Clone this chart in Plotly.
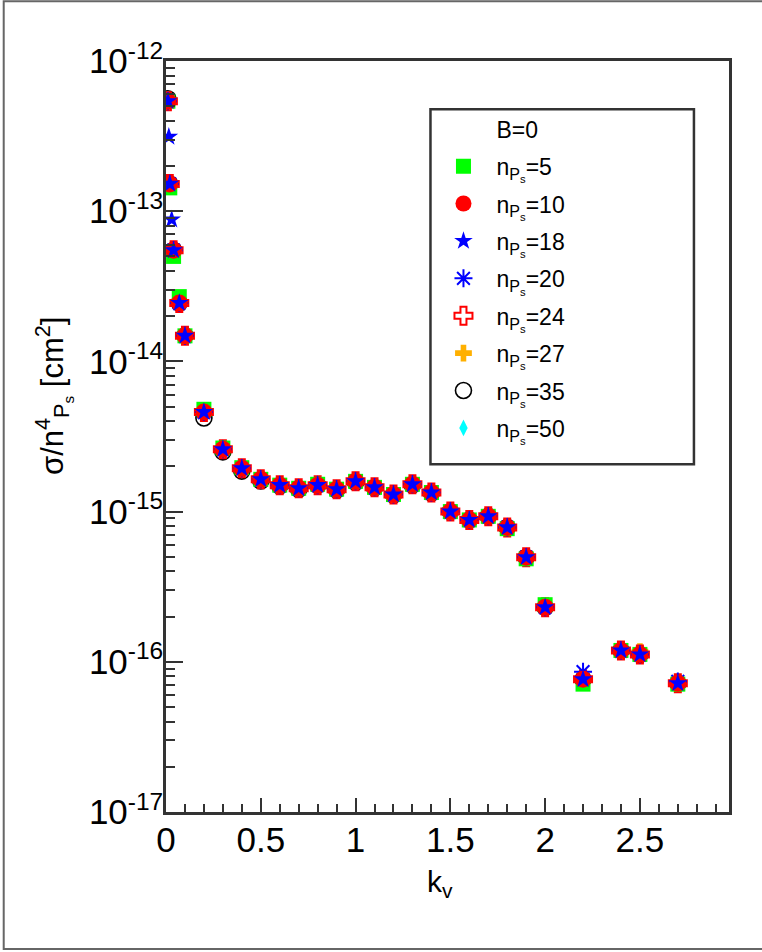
import plotly.graph_objects as go

# ---------------- data ----------------
kv = [0.01, 0.02, 0.04, 0.07, 0.1, 0.2, 0.3, 0.4, 0.5, 0.6, 0.7, 0.8, 0.9, 1.0,
      1.1, 1.2, 1.3, 1.4, 1.5, 1.6, 1.7, 1.8, 1.9, 2.0, 2.2, 2.4, 2.5, 2.7]

sig_n5 = [5.4e-13, 1.43e-13, 5.0e-14, 2.7e-14, 1.48e-14, 4.8e-15, 2.65e-15, 1.96e-15,
          1.64e-15, 1.5e-15, 1.43e-15, 1.52e-15, 1.41e-15, 1.59e-15, 1.45e-15, 1.3e-15,
          1.52e-15, 1.34e-15, 1.0e-15, 8.8e-16, 9.3e-16, 7.7e-16, 4.85e-16, 2.4e-16,
          7.1e-17, 1.19e-16, 1.12e-16, 7.1e-17]
sig_n10 = [5.4e-13, 1.52e-13, 5.5e-14, 2.45e-14, 1.48e-14, 4.6e-15, 2.6e-15, 1.94e-15,
           1.64e-15, 1.5e-15, 1.43e-15, 1.5e-15, 1.41e-15, 1.59e-15, 1.45e-15, 1.3e-15,
           1.52e-15, 1.34e-15, 1.0e-15, 8.8e-16, 9.3e-16, 7.85e-16, 4.97e-16, 2.31e-16,
           7.65e-17, 1.19e-16, 1.12e-16, 7.2e-17]
kv_n18 = [0.01, 0.015, 0.02, 0.03, 0.04, 0.07, 0.1, 0.2, 0.3, 0.4, 0.5, 0.6, 0.7, 0.8,
          0.9, 1.0, 1.1, 1.2, 1.3, 1.4, 1.5, 1.6, 1.7, 1.8, 1.9, 2.0, 2.2, 2.4, 2.5, 2.7]
sig_n18 = [5.4e-13, 3.13e-13, 1.52e-13, 8.8e-14, 5.5e-14, 2.45e-14, 1.48e-14, 4.6e-15,
           2.6e-15, 1.94e-15, 1.64e-15, 1.5e-15, 1.43e-15, 1.5e-15, 1.41e-15, 1.59e-15,
           1.45e-15, 1.3e-15, 1.52e-15, 1.34e-15, 1.0e-15, 8.8e-16, 9.3e-16, 7.85e-16,
           4.97e-16, 2.31e-16, 7.65e-17, 1.19e-16, 1.12e-16, 7.2e-17]
sig_n20 = [5.4e-13, 1.52e-13, 5.5e-14, 2.45e-14, 1.48e-14, 4.6e-15, 2.6e-15, 1.94e-15,
           1.64e-15, 1.5e-15, 1.43e-15, 1.5e-15, 1.41e-15, 1.59e-15, 1.45e-15, 1.3e-15,
           1.52e-15, 1.34e-15, 1.0e-15, 8.8e-16, 9.3e-16, 7.85e-16, 4.97e-16, 2.31e-16,
           8.6e-17, 1.19e-16, 1.12e-16, 7.4e-17]
sig_n24 = [5.4e-13, 1.52e-13, 5.5e-14, 2.45e-14, 1.48e-14, 4.6e-15, 2.6e-15, 1.94e-15,
           1.64e-15, 1.5e-15, 1.43e-15, 1.5e-15, 1.41e-15, 1.59e-15, 1.45e-15, 1.3e-15,
           1.52e-15, 1.34e-15, 1.0e-15, 8.8e-16, 9.3e-16, 7.85e-16, 4.97e-16, 2.31e-16,
           7.65e-17, 1.19e-16, 1.12e-16, 7.2e-17]
sig_n27 = [5.4e-13, 1.52e-13, 5.5e-14, 2.45e-14, 1.48e-14, 4.6e-15, 2.6e-15, 1.94e-15,
           1.64e-15, 1.5e-15, 1.43e-15, 1.5e-15, 1.41e-15, 1.59e-15, 1.45e-15, 1.3e-15,
           1.52e-15, 1.34e-15, 1.0e-15, 8.8e-16, 9.3e-16, 7.85e-16, 4.97e-16, 2.31e-16,
           7.65e-17, 1.19e-16, 1.17e-16, 7.2e-17]
sig_n35 = [5.6e-13, 1.52e-13, 5.5e-14, 2.45e-14, 1.48e-14, 4.2e-15, 2.5e-15, 1.86e-15,
           1.6e-15, 1.48e-15, 1.41e-15, 1.5e-15, 1.39e-15, 1.57e-15, 1.44e-15, 1.29e-15,
           1.5e-15, 1.33e-15, 1.0e-15, 8.8e-16, 9.3e-16, 7.85e-16, 4.97e-16, 2.31e-16,
           7.65e-17, 1.19e-16, 1.12e-16, 7.2e-17]
sig_n50 = [5.4e-13, 1.52e-13, 5.5e-14, 2.45e-14, 1.48e-14, 4.6e-15, 2.6e-15, 1.94e-15,
           1.64e-15, 1.5e-15, 1.43e-15, 1.5e-15, 1.41e-15, 1.59e-15, 1.45e-15, 1.3e-15,
           1.52e-15, 1.34e-15, 1.0e-15, 8.8e-16, 9.3e-16, 7.85e-16, 4.97e-16, 2.31e-16,
           7.65e-17, 1.19e-16, 1.12e-16, 7.2e-17]

x_tickvals = [0, 0.5, 1, 1.5, 2, 2.5]
x_ticktext = ["0", "0.5", "1", "1.5", "2", "2.5"]
y_exps = [-17, -16, -15, -14, -13, -12]

FONT = "Liberation Sans"

fig = go.Figure()

# legend header entry
fig.add_trace(go.Scatter(x=[None], y=[None], mode="markers", name="B=0",
                         marker=dict(size=1, color="rgba(0,0,0,0)"), legendrank=1,
                         legendgroup="g0"))

# series: (label, k, sigma, symbol, color, size, line width, legend rank)
series = [
    ("50", kv, sig_n50, "diamond-tall", "#00ffff", 12, 0, 9),
    ("35", kv, sig_n35, "circle-open", "#000000", 16, 1.6, 8),
    ("27", kv, sig_n27, "cross", "#ffb000", 14, 0, 7),
    ("24", kv, sig_n24, "cross-open", "#ff0000", 15, 2, 6),
    ("20", kv, sig_n20, "asterisk-open", "#0000ff", 15, 2, 5),
    ("5", kv, sig_n5, "square", "#00ff00", 15, 0, 2),
    ("10", kv, sig_n10, "circle", "#ff0000", 17, 0, 3),
    ("18", kv_n18, sig_n18, "star", "#0000ff", 14, 0, 4),
]
for lab, xs, ys, sym, col, sz, lw, rk in series:
    if sym.endswith("-open"):
        mk = dict(symbol=sym, size=sz, color=col, line=dict(color=col, width=lw))
    else:
        mk = dict(symbol=sym, size=sz, color=col, line=dict(width=0))
    fig.add_trace(go.Scatter(
        x=xs, y=ys, mode="markers", marker=mk, legendrank=rk,
        legendgroup="g" + lab,
        name="n<sub>P<sub>s</sub></sub>=" + lab,
    ))

LINE = "#333333"
fig.update_xaxes(
    range=[0, 2.97], showgrid=False, zeroline=False,
    showline=True, mirror=True, linewidth=2.5, linecolor=LINE,
    tickmode="array", tickvals=x_tickvals, ticktext=x_ticktext,
    ticks="inside", ticklen=14, tickwidth=1.5, tickcolor=LINE,
    tickfont=dict(family=FONT, size=35, color="black"),
    ticklabelstandoff=-5,
    minor=dict(tickmode="array",
               tickvals=[i / 10 for i in range(0, 30) if i % 5],
               ticks="inside", ticklen=8, tickwidth=1.5, tickcolor=LINE,
               showgrid=False),
)
fig.update_yaxes(
    type="log", range=[-17, -12], showgrid=False, zeroline=False,
    showline=True, mirror=True, linewidth=2.5, linecolor=LINE,
    tickmode="array", tickvals=[10.0 ** e for e in y_exps],
    ticktext=["10<sup>%d</sup>" % e for e in y_exps],
    ticks="inside", ticklen=17, tickwidth=1.5, tickcolor=LINE,
    tickfont=dict(family=FONT, size=35, color="black"),
    ticklabelstandoff=-7,
    minor=dict(tickmode="array",
               tickvals=[m * 10.0 ** e for e in range(-17, -12) for m in range(2, 10)],
               ticks="inside", ticklen=9, tickwidth=1.5, tickcolor=LINE,
               showgrid=False),
)

# frame of the whole picture and legend box
fig.add_shape(type="rect", xref="paper", yref="paper",
              x0=(4 - 166) / 562, x1=1.3, y0=-(949 - 812) / 751.3, y1=1 + (60.7 - 1) / 751.3,
              line=dict(color="#666666", width=2), fillcolor="rgba(0,0,0,0)", layer="below")
fig.add_shape(type="rect", xref="paper", yref="paper",
              x0=(430 - 166) / 562, x1=(693 - 166) / 562,
              y0=1 - (464 - 60.7) / 751.3, y1=1 - (109 - 60.7) / 751.3,
              line=dict(color=LINE, width=2.5), fillcolor="white", layer="below")

# axis titles
fig.add_annotation(text="σ/n<sup>4</sup><sub>P<sub>s</sub></sub> [cm<sup>2</sup>]",
                   xref="paper", yref="paper", x=(53 - 166) / 562, y=1 - (396 - 60.7) / 751.3,
                   textangle=-90, showarrow=False, xanchor="center", yanchor="middle",
                   font=dict(family=FONT, size=31, color="black"))
fig.add_annotation(text="k<sub>v</sub>", xref="paper", yref="paper",
                   x=(440 - 166) / 562, y=-(884 - 812) / 751.3,
                   showarrow=False, xanchor="center", yanchor="middle",
                   font=dict(family=FONT, size=30, color="black"))

fig.update_layout(
    width=762, height=952,
    margin=dict(l=166, r=33, t=61, b=140),
    paper_bgcolor="white", plot_bgcolor="white",
    showlegend=True,
    legend=dict(x=(430 - 166) / 562, y=1 - (107 - 60.7) / 751.3, xanchor="left", yanchor="top",
                bgcolor="rgba(0,0,0,0)", borderwidth=0,
                font=dict(family=FONT, size=23, color="black"),
                itemsizing="trace", itemwidth=56, tracegroupgap=4.5),
)

fig.write_html("out.html")
